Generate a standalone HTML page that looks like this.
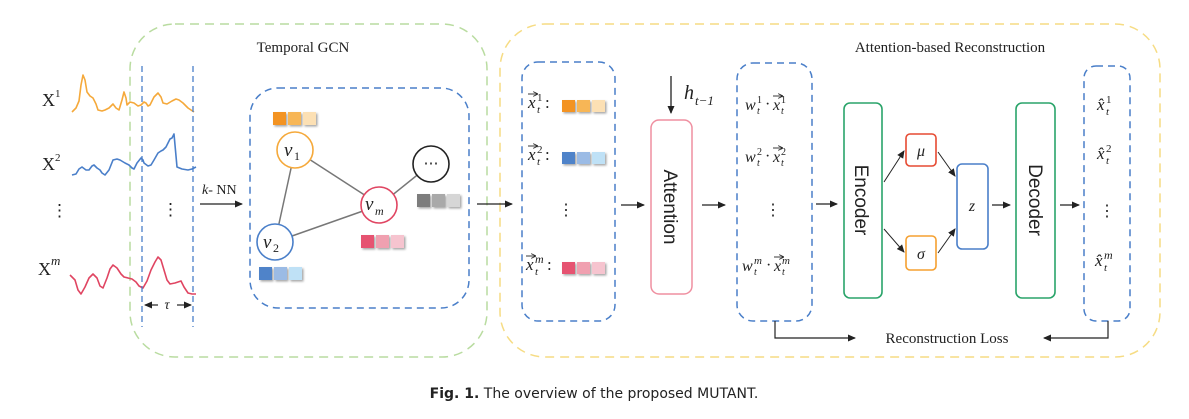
<!DOCTYPE html>
<html><head><meta charset="utf-8"><style>
body{margin:0;background:#fff;}
svg{display:block;}
text{font-family:"Liberation Serif",serif;fill:#222;}
.m{font-style:italic;}
.s{font-family:"Liberation Sans",sans-serif;}
</style></head><body>
<svg width="1189" height="419" viewBox="0 0 1189 419" xmlns="http://www.w3.org/2000/svg">
<defs>
<marker id="a" markerWidth="8" markerHeight="8" refX="7" refY="4" orient="auto" markerUnits="userSpaceOnUse"><path d="M0,0.5 L8,4 L0,7.5 z" fill="#222"/></marker>
<marker id="v" markerWidth="5" markerHeight="5" refX="4" refY="2.5" orient="auto" markerUnits="userSpaceOnUse"><path d="M0,0 L5,2.5 L0,5" fill="none" stroke="#222" stroke-width="0.8"/></marker>
<filter id="sh" x="-20%" y="-20%" width="150%" height="160%"><feDropShadow dx="1.5" dy="1.5" stdDeviation="1" flood-opacity="0.35"/></filter>
</defs>
<rect x="130" y="24" width="357" height="333" rx="45" fill="none" stroke="#b9dca0" stroke-width="1.5" stroke-dasharray="9,6"/>
<rect x="500" y="24" width="660" height="333" rx="45" fill="none" stroke="#f6dc84" stroke-width="1.5" stroke-dasharray="9,6"/>
<text x="303" y="52" font-size="15" text-anchor="middle">Temporal GCN</text>
<text x="950" y="52" font-size="15" text-anchor="middle">Attention-based Reconstruction</text>

<text x="42" y="106" font-size="18">X</text><text x="55" y="97" font-size="11">1</text>
<text x="42" y="170" font-size="18">X</text><text x="55" y="161" font-size="11">2</text>
<text x="51" y="216" font-size="17">⋮</text>
<text x="38" y="275" font-size="18">X</text><text x="51" y="265" font-size="13" class="m">m</text>
<polyline fill="none" stroke="#f5a93b" stroke-width="1.6" stroke-linejoin="round" points="72,112 76,108 79,101 81,85 83,75 85,80 87,92 90,96 93,98 96,104 98,110 102,111 105,110 109,108 113,104 116,108 119,110 122,100 124,92 126,98 127,105 130,102 134,103 138,106 141,105 144,102 146,103 148,106 150,105 154,97 158,93 161,97 163,103 167,104 172,101 176,99 179,100 183,103 188,108 191,110 194,112"/>
<polyline fill="none" stroke="#4a7fc9" stroke-width="1.6" stroke-linejoin="round" points="72,175 76,174 79,169 82,167 86,170 89,170 92,166 94,165 97,168 100,170 102,173 105,175 109,170 113,160 117,159 120,160 125,163 129,165 132,168 134,169 137,163 141,158 143,160 144,163 148,166 151,165 154,160 158,153 161,151 163,150 166,147 170,139 172,138 174,134 175,145 177,167 182,169 188,170 192,169 196,167"/>
<polyline fill="none" stroke="#e04562" stroke-width="1.6" stroke-linejoin="round" points="70,275 75,280 78,290 81,294 85,287 89,278 93,274 97,278 100,286 103,288 107,278 110,269 113,265 117,268 121,274 124,277 128,278 132,279 136,282 139,286 143,288 147,281 151,270 155,262 158,257 161,260 164,270 167,280 170,284 175,283 181,281 184,287 188,293 192,294 196,294"/>
<line x1="142" y1="66" x2="142" y2="327" stroke="#4a7fc9" stroke-width="1.3" stroke-dasharray="6,4"/>
<line x1="193" y1="66" x2="193" y2="327" stroke="#4a7fc9" stroke-width="1.3" stroke-dasharray="6,4"/>
<text x="162" y="215" font-size="17">⋮</text>
<line x1="158" y1="305" x2="145" y2="305" stroke="#222" stroke-width="1.2" marker-end="url(#a)"/>
<line x1="177" y1="305" x2="191" y2="305" stroke="#222" stroke-width="1.2" marker-end="url(#a)"/>
<text x="167" y="309" font-size="14" text-anchor="middle" class="m">τ</text>

<line x1="200" y1="204" x2="242" y2="204" stroke="#222" stroke-width="1.2" marker-end="url(#a)"/>
<text x="202" y="194" font-size="14"><tspan class="m">k</tspan>- NN</text>

<rect x="250" y="88" width="219" height="220" rx="28" fill="none" stroke="#4a7fc9" stroke-width="1.5" stroke-dasharray="7,5"/>
<g stroke="#777" stroke-width="1.5">
<line x1="295" y1="150" x2="380" y2="205"/><line x1="295" y1="150" x2="275" y2="242"/><line x1="275" y1="242" x2="380" y2="205"/><line x1="380" y1="205" x2="431" y2="164"/>
</g>
<circle cx="295" cy="150" r="18" fill="#fff" stroke="#f5a93b" stroke-width="1.6"/>
<circle cx="275" cy="242" r="18" fill="#fff" stroke="#4a7fc9" stroke-width="1.6"/>
<circle cx="379" cy="205" r="18" fill="#fff" stroke="#e04562" stroke-width="1.6"/>
<circle cx="431" cy="164" r="18" fill="#fff" stroke="#222" stroke-width="1.6"/>
<text x="284" y="156" font-size="19" class="m">v</text><text x="294" y="160" font-size="12">1</text>
<text x="263" y="248" font-size="19" class="m">v</text><text x="273" y="252" font-size="12">2</text>
<text x="365" y="210" font-size="19" class="m">v</text><text x="375" y="215" font-size="12" class="m">m</text>
<text x="431" y="168" font-size="15" text-anchor="middle">⋯</text>
<g filter="url(#sh)">
<rect x="273" y="112" width="13" height="13" fill="#f39322"/><rect x="288" y="112" width="13" height="13" fill="#f7b657"/><rect x="303" y="112" width="13" height="13" fill="#fce0b4"/>
<rect x="259" y="267" width="13" height="13" fill="#4f83c9"/><rect x="274" y="267" width="13" height="13" fill="#9bbbe5"/><rect x="289" y="267" width="13" height="13" fill="#bfe1f6"/>
<rect x="361" y="235" width="13" height="13" fill="#e65271"/><rect x="376" y="235" width="13" height="13" fill="#f0a0b0"/><rect x="391" y="235" width="13" height="13" fill="#f6c4cf"/>
<rect x="417" y="194" width="13" height="13" fill="#7d7d7d"/><rect x="432" y="194" width="13" height="13" fill="#a9a9a9"/><rect x="447" y="194" width="13" height="13" fill="#d6d6d6"/>
</g>
<line x1="477" y1="204" x2="512" y2="204" stroke="#222" stroke-width="1.2" marker-end="url(#a)"/>

<!-- box1 -->
<rect x="522" y="62" width="93" height="259" rx="16" fill="none" stroke="#4a7fc9" stroke-width="1.5" stroke-dasharray="7,5"/>
<g font-size="17">
<text x="528" y="108" class="m">x</text><text x="537" y="101" font-size="11">1</text><text x="537" y="113" font-size="11" class="m">t</text><text x="545" y="108">:</text>
<line x1="528" y1="94" x2="537" y2="94" stroke="#222" stroke-width="0.9" marker-end="url(#v)"/>
<text x="528" y="160" class="m">x</text><text x="537" y="153" font-size="11">2</text><text x="537" y="165" font-size="11" class="m">t</text><text x="545" y="160">:</text>
<line x1="528" y1="146" x2="537" y2="146" stroke="#222" stroke-width="0.9" marker-end="url(#v)"/>
<text x="526" y="270" class="m">x</text><text x="535" y="263" font-size="12" class="m">m</text><text x="535" y="275" font-size="11" class="m">t</text><text x="547" y="270">:</text>
<line x1="526" y1="256" x2="535" y2="256" stroke="#222" stroke-width="0.9" marker-end="url(#v)"/>
</g>
<text x="566" y="215" font-size="16" text-anchor="middle">⋮</text>
<g filter="url(#sh)">
<rect x="562" y="100" width="13" height="12" fill="#f39322"/><rect x="577" y="100" width="13" height="12" fill="#f7b657"/><rect x="592" y="100" width="13" height="12" fill="#fce0b4"/>
<rect x="562" y="152" width="13" height="12" fill="#4f83c9"/><rect x="577" y="152" width="13" height="12" fill="#9bbbe5"/><rect x="592" y="152" width="13" height="12" fill="#bfe1f6"/>
<rect x="562" y="262" width="13" height="12" fill="#e65271"/><rect x="577" y="262" width="13" height="12" fill="#f0a0b0"/><rect x="592" y="262" width="13" height="12" fill="#f6c4cf"/>
</g>
<line x1="621" y1="205" x2="644" y2="205" stroke="#222" stroke-width="1.2" marker-end="url(#a)"/>

<line x1="671" y1="76" x2="671" y2="113" stroke="#222" stroke-width="1.3" marker-end="url(#a)"/>
<text x="684" y="99" font-size="20" class="m">h</text><text x="695" y="105" font-size="13" class="m">t−1</text>
<rect x="651" y="120" width="41" height="174" rx="8" fill="none" stroke="#ef8fa0" stroke-width="1.5"/>
<text x="0" y="0" font-size="19" class="s" transform="translate(664,207) rotate(90)" text-anchor="middle">Attention</text>
<line x1="702" y1="205" x2="725" y2="205" stroke="#222" stroke-width="1.2" marker-end="url(#a)"/>

<!-- box2 -->
<rect x="737" y="63" width="75" height="258" rx="16" fill="none" stroke="#4a7fc9" stroke-width="1.5" stroke-dasharray="7,5"/>
<g font-size="16">
<text x="745" y="110" class="m">w</text><text x="757" y="103" font-size="10">1</text><text x="757" y="114" font-size="10" class="m">t</text><text x="765" y="109">·</text>
<text x="773" y="110" class="m">x</text><text x="781" y="103" font-size="10">1</text><text x="781" y="114" font-size="10" class="m">t</text>
<line x1="773" y1="96" x2="782" y2="96" stroke="#222" stroke-width="0.9" marker-end="url(#v)"/>
<text x="745" y="162" class="m">w</text><text x="757" y="155" font-size="10">2</text><text x="757" y="166" font-size="10" class="m">t</text><text x="765" y="161">·</text>
<text x="773" y="162" class="m">x</text><text x="781" y="155" font-size="10">2</text><text x="781" y="166" font-size="10" class="m">t</text>
<line x1="773" y1="148" x2="782" y2="148" stroke="#222" stroke-width="0.9" marker-end="url(#v)"/>
<text x="742" y="271" class="m">w</text><text x="754" y="264" font-size="11" class="m">m</text><text x="754" y="275" font-size="10" class="m">t</text><text x="766" y="270">·</text>
<text x="774" y="271" class="m">x</text><text x="782" y="264" font-size="11" class="m">m</text><text x="782" y="275" font-size="10" class="m">t</text>
<line x1="774" y1="257" x2="783" y2="257" stroke="#222" stroke-width="0.9" marker-end="url(#v)"/>
</g>
<text x="773" y="215" font-size="16" text-anchor="middle">⋮</text>
<line x1="816" y1="204" x2="837" y2="204" stroke="#222" stroke-width="1.2" marker-end="url(#a)"/>

<rect x="844" y="103" width="38" height="195" rx="6" fill="none" stroke="#2aa46a" stroke-width="1.6"/>
<text x="0" y="0" font-size="19" class="s" transform="translate(855,200) rotate(90)" text-anchor="middle">Encoder</text>
<rect x="906" y="134" width="30" height="32" rx="4" fill="none" stroke="#e64a32" stroke-width="1.6"/>
<text x="921" y="156" font-size="16" class="m" text-anchor="middle">μ</text>
<rect x="906" y="236" width="30" height="34" rx="4" fill="none" stroke="#f5a030" stroke-width="1.6"/>
<text x="921" y="259" font-size="16" class="m" text-anchor="middle">σ</text>
<rect x="957" y="164" width="31" height="85" rx="5" fill="none" stroke="#4a7fc9" stroke-width="1.6"/>
<text x="972" y="211" font-size="16" class="m" text-anchor="middle">z</text>
<g stroke="#222" stroke-width="1" marker-end="url(#a)">
<line x1="884" y1="182" x2="904" y2="151"/><line x1="884" y1="229" x2="904" y2="252"/>
<line x1="938" y1="152" x2="955" y2="176"/><line x1="938" y1="253" x2="955" y2="229"/>
</g>
<line x1="992" y1="205" x2="1010" y2="205" stroke="#222" stroke-width="1.2" marker-end="url(#a)"/>
<rect x="1016" y="103" width="39" height="195" rx="6" fill="none" stroke="#2aa46a" stroke-width="1.6"/>
<text x="0" y="0" font-size="19" class="s" transform="translate(1029,200) rotate(90)" text-anchor="middle">Decoder</text>
<line x1="1060" y1="205" x2="1079" y2="205" stroke="#222" stroke-width="1.2" marker-end="url(#a)"/>

<rect x="1084" y="66" width="46" height="255" rx="12" fill="none" stroke="#4a7fc9" stroke-width="1.5" stroke-dasharray="7,5"/>
<g font-size="17">
<text x="1097" y="110" class="m">x̂</text><text x="1106" y="103" font-size="11">1</text><text x="1106" y="115" font-size="11" class="m">t</text>
<text x="1097" y="159" class="m">x̂</text><text x="1106" y="152" font-size="11">2</text><text x="1106" y="164" font-size="11" class="m">t</text>
<text x="1095" y="266" class="m">x̂</text><text x="1104" y="259" font-size="12" class="m">m</text><text x="1104" y="271" font-size="11" class="m">t</text>
</g>
<text x="1107" y="216" font-size="16" text-anchor="middle">⋮</text>

<polyline points="775,321 775,338 855,338" fill="none" stroke="#222" stroke-width="1.2" marker-end="url(#a)"/>
<polyline points="1108,321 1108,338 1044,338" fill="none" stroke="#222" stroke-width="1.2" marker-end="url(#a)"/>
<text x="947" y="343" font-size="15" text-anchor="middle">Reconstruction Loss</text>

<text x="594" y="398" font-size="14" text-anchor="middle" style="font-family:'DejaVu Sans','Liberation Sans',sans-serif"><tspan font-weight="bold">Fig. 1.</tspan> The overview of the proposed MUTANT.</text>
</svg>
</body></html>
